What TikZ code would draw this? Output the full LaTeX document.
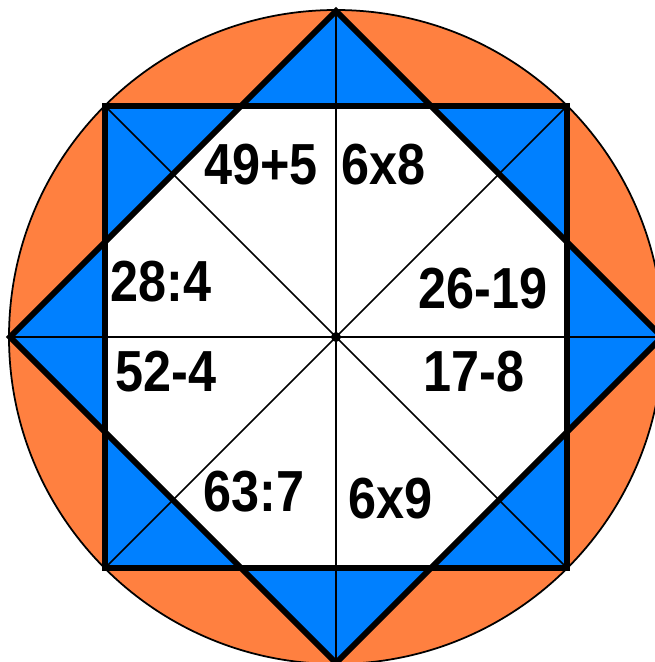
\documentclass[tikz,border=0pt]{standalone}
\usepackage{fontspec}
\setmainfont{Liberation Sans}
\usepackage{tikz}

\definecolor{disc}{HTML}{FF8040}
\definecolor{star}{HTML}{0080FF}

\begin{document}
\begin{tikzpicture}[x=0.03cm, y=0.03cm, every node/.style={font=\fontsize{43}{48}\selectfont\bfseries, inner sep=0pt, yscale=1.15}]
    \useasboundingbox (-336,-325) rectangle (319,337);
    \clip (-336,-325) rectangle (319,337);
    % Points
    \coordinate (c) at (0,0);
    \coordinate (tl) at (-231,231);
    \coordinate (tr) at (231,231);
    \coordinate (br) at (231,-231);
    \coordinate (bl) at (-231,-231);
    \coordinate (top) at (0,326);
    \coordinate (right) at (326,0);
    \coordinate (bottom) at (0,-326);
    \coordinate (left) at (-326,0);

    % Fills
    \filldraw[fill=disc, draw=black, line width=1.5pt] (c) circle (327);
    \fill[star] (tl) -- (tr) -- (br) -- (bl) -- cycle;
    \fill[star] (top) -- (right) -- (bottom) -- (left) -- cycle;
    \begin{scope}
        \clip (tl) rectangle (br);
        \fill[white] (top) -- (right) -- (bottom) -- (left) -- cycle;
    \end{scope}

    % Lines
    \draw[line width=1.4pt] (tl) -- (br);
    \draw[line width=1.4pt] (tr) -- (bl);
    \draw[line width=2.4pt] (top) -- (bottom);
    \draw[line width=2.4pt] (left) -- (right);
    \draw[line width=5pt] (tl) -- (tr) -- (br) -- (bl) -- cycle;
    \draw[line width=5pt] (top) -- (right) -- (bottom) -- (left) -- cycle;
    \fill (c) circle (5);

    % Sums
    \node (s1) at (-75,172) {49+5};
    \node (s2) at (48,172) {6x8};
    \node (s3) at (-175,55) {28:4};
    \node (s4) at (147,48) {26-19};
    \node (s5) at (-170,-35) {52-4};
    \node (s6) at (138,-35) {17-8};
    \node (s7) at (-82,-155) {63:7};
    \node (s8) at (55,-162) {6x9};
\end{tikzpicture}
\end{document}
